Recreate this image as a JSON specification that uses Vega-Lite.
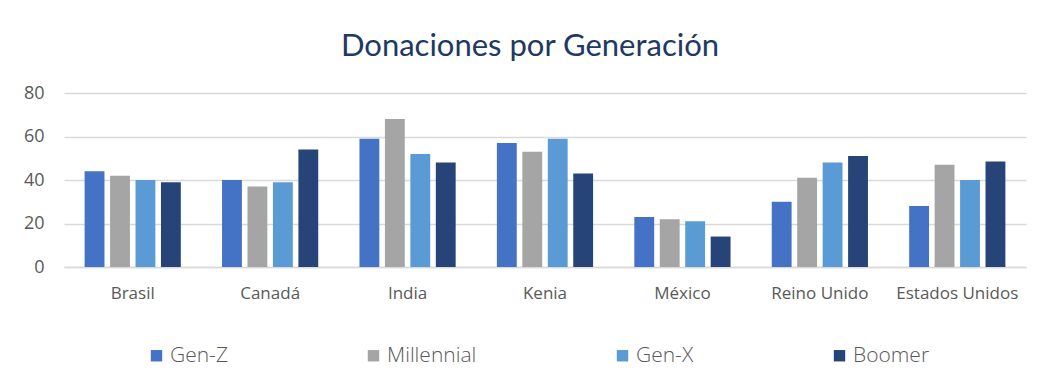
{
  "$schema": "https://vega.github.io/schema/vega-lite/v6.json",
  "width": 962,
  "height": 174,
  "autosize": {"type": "none"},
  "padding": {"left": 64, "top": 93, "right": 35, "bottom": 116},
  "background": "white",
  "title": {
    "text": "Donaciones por Generación",
    "font": "Lato",
    "fontSize": 31,
    "fontWeight": "normal",
    "color": "#203864",
    "anchor": "middle",
    "dx": -15,
    "offset": 21
  },
  "data": {
    "values": [
      {"pais": "Brasil", "gen": "Gen-Z", "valor": 44},
      {"pais": "Brasil", "gen": "Millennial", "valor": 42},
      {"pais": "Brasil", "gen": "Gen-X", "valor": 40},
      {"pais": "Brasil", "gen": "Boomer", "valor": 39},
      {"pais": "Canadá", "gen": "Gen-Z", "valor": 40},
      {"pais": "Canadá", "gen": "Millennial", "valor": 37},
      {"pais": "Canadá", "gen": "Gen-X", "valor": 39},
      {"pais": "Canadá", "gen": "Boomer", "valor": 54},
      {"pais": "India", "gen": "Gen-Z", "valor": 59},
      {"pais": "India", "gen": "Millennial", "valor": 68},
      {"pais": "India", "gen": "Gen-X", "valor": 52},
      {"pais": "India", "gen": "Boomer", "valor": 48},
      {"pais": "Kenia", "gen": "Gen-Z", "valor": 57},
      {"pais": "Kenia", "gen": "Millennial", "valor": 53},
      {"pais": "Kenia", "gen": "Gen-X", "valor": 59},
      {"pais": "Kenia", "gen": "Boomer", "valor": 43},
      {"pais": "México", "gen": "Gen-Z", "valor": 23},
      {"pais": "México", "gen": "Millennial", "valor": 22},
      {"pais": "México", "gen": "Gen-X", "valor": 21},
      {"pais": "México", "gen": "Boomer", "valor": 14},
      {"pais": "Reino Unido", "gen": "Gen-Z", "valor": 30},
      {"pais": "Reino Unido", "gen": "Millennial", "valor": 41},
      {"pais": "Reino Unido", "gen": "Gen-X", "valor": 48},
      {"pais": "Reino Unido", "gen": "Boomer", "valor": 51},
      {"pais": "Estados Unidos", "gen": "Gen-Z", "valor": 28},
      {"pais": "Estados Unidos", "gen": "Millennial", "valor": 47},
      {"pais": "Estados Unidos", "gen": "Gen-X", "valor": 40},
      {"pais": "Estados Unidos", "gen": "Boomer", "valor": 48.5}
    ]
  },
  "mark": {"type": "bar"},
  "encoding": {
    "x": {
      "field": "pais",
      "type": "nominal",
      "sort": null,
      "scale": {"paddingInner": 0.3, "paddingOuter": 0.15},
      "axis": {
        "title": null,
        "labelAngle": 0,
        "labelFont": "Open Sans",
        "labelFontSize": 17,
        "labelColor": "#595959",
        "labelPadding": 18,
        "ticks": false,
        "domain": true,
        "domainColor": "#d9d9d9",
        "domainWidth": 1.5
      }
    },
    "xOffset": {
      "field": "gen",
      "type": "nominal",
      "sort": ["Gen-Z", "Millennial", "Gen-X", "Boomer"],
      "scale": {"paddingInner": 0.22, "paddingOuter": 0}
    },
    "y": {
      "field": "valor",
      "type": "quantitative",
      "scale": {"domain": [0, 80]},
      "axis": {
        "title": null,
        "values": [0, 20, 40, 60, 80],
        "labelFont": "Open Sans",
        "labelFontSize": 18,
        "labelColor": "#595959",
        "labelPadding": 20,
        "ticks": false,
        "domain": false,
        "gridColor": "#d9d9d9",
        "gridWidth": 1.5
      }
    },
    "color": {
      "field": "gen",
      "type": "nominal",
      "sort": ["Gen-Z", "Millennial", "Gen-X", "Boomer"],
      "scale": {
        "domain": ["Gen-Z", "Millennial", "Gen-X", "Boomer"],
        "range": ["#4472C4", "#A5A5A5", "#5B9BD5", "#264478"]
      },
      "legend": {
        "title": null,
        "orient": "none",
        "legendX": 82,
        "legendY": 252,
        "direction": "horizontal",
        "columns": 4,
        "columnPadding": 135,
        "symbolType": "square",
        "symbolSize": 130,
        "symbolStrokeWidth": 0,
        "symbolOpacity": 1,
        "labelFont": "Open Sans",
        "labelFontSize": 21,
        "labelFontWeight": 300,
        "labelColor": "#595959",
        "labelOffset": 3
      }
    }
  },
  "config": {
    "view": {"stroke": null},
    "axis": {"gridOpacity": 1}
  }
}
